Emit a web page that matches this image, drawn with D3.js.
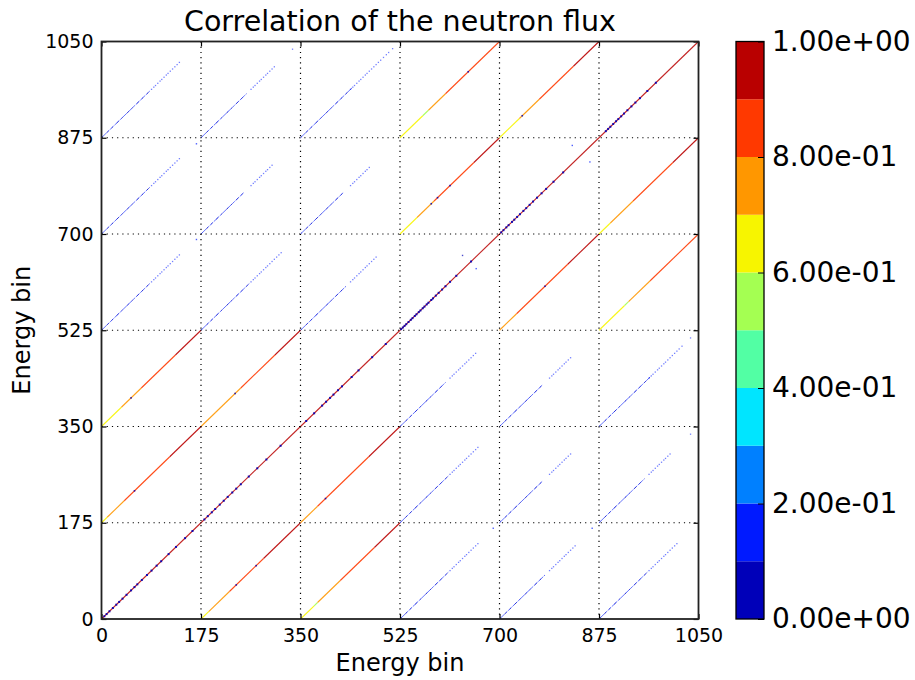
<!DOCTYPE html>
<html>
<head>
<meta charset="utf-8">
<script src="https://cdn.jsdelivr.net/npm/d3@7"></script>
<style>
  body { margin: 0; background: #fff; }
  svg { font-family: "DejaVu Sans", sans-serif; }
</style>
</head>
<body>
<svg id="chart" width="915" height="680"></svg>
<script>
// ---- data ----
const groupSize = 175;           // bins per block
const nBins = 1050;
const axisTicks = [0, 175, 350, 525, 700, 875, 1050];
const cbarLevels = [0, 0.1, 0.2, 0.3, 0.4, 0.5, 0.6, 0.7, 0.8, 0.9, 1.0];
const cbarTicks = [0, 0.2, 0.4, 0.6, 0.8, 1.0];
const cbarTickLabels = ["0.00e+00", "2.00e-01", "4.00e-01", "6.00e-01", "8.00e-01", "1.00e+00"];

// strongly correlated blocks: [row, col, runs of [start, end, value]] (offsets inside the block)
const strongBlocks = [
  [0, 1, [[0, 14, 0.68], [14, 50, 0.76], [50, 110, 0.86], [110, 175, 0.92]]],
  [0, 2, [[0, 24, 0.64], [24, 30, 0.55], [30, 70, 0.75], [70, 130, 0.85], [130, 175, 0.92]]],
  [1, 0, [[0, 10, 0.65], [10, 40, 0.76], [40, 120, 0.86], [120, 175, 0.93]]],
  [1, 2, [[0, 30, 0.75], [30, 120, 0.86], [120, 175, 0.93]]],
  [2, 0, [[0, 35, 0.65], [35, 70, 0.76], [70, 130, 0.86], [130, 175, 0.93]]],
  [2, 1, [[0, 25, 0.7], [25, 70, 0.76], [70, 130, 0.86], [130, 175, 0.93]]],
  [3, 4, [[0, 30, 0.76], [30, 120, 0.86], [120, 175, 0.93]]],
  [3, 5, [[0, 45, 0.64], [45, 52, 0.55], [52, 90, 0.76], [90, 175, 0.86]]],
  [4, 3, [[0, 30, 0.65], [30, 60, 0.76], [60, 130, 0.86], [130, 175, 0.93]]],
  [4, 5, [[0, 20, 0.68], [20, 60, 0.76], [60, 130, 0.86], [130, 175, 0.93]]],
  [5, 3, [[0, 40, 0.63], [40, 50, 0.55], [50, 80, 0.76], [80, 175, 0.86]]],
  [5, 4, [[0, 35, 0.65], [35, 70, 0.76], [70, 130, 0.86], [130, 175, 0.93]]]
];
// occasional low values on the strong off-diagonal lines: [row, col, offset]
const strongSpecks = [
  [0, 1, 62], [0, 1, 97], [1, 0, 58], [1, 2, 44], [2, 0, 52], [2, 1, 60],
  [3, 4, 80], [4, 3, 55], [4, 3, 66], [4, 3, 88], [5, 4, 40], [5, 3, 120]
];

// main diagonal blocks are ~1, with dark-blue specks at these offsets
const diagValue = 0.95;
const diagSpecks = [
  [5, 9, 14, 20, 26, 31, 37, 44, 52, 58, 63, 71, 80, 88, 97, 105, 118, 131, 147, 160],
  [6, 12, 19, 25, 33, 40, 47, 55, 62, 70, 84, 99, 115, 140],
  [10, 24, 38, 45, 52, 58, 66, 73, 90, 102, 126, 150],
  [2, 5, 8, 11, 15, 19, 22, 26, 29, 33, 36, 40, 43, 47, 50, 55,
   58, 63, 68, 74, 80, 88, 99, 125],
  [3, 7, 12, 16, 22, 26, 31, 36, 42, 47, 53, 59, 66, 74, 82, 95, 112],
  [12, 16, 20, 25, 30, 34, 39, 44, 50, 57, 64, 72, 85, 100]
];

// weak cross-group blocks: [row, col, dense length, last offset, extra far dot or null]
const weakBlocks = [
  [0, 3, 85, 139, null], [0, 4, 80, 135, null], [0, 5, 85, 137, null],
  [1, 3, 85, 139, null], [1, 4, 75, 125, null], [1, 5, 80, 128, 161],
  [2, 3, 80, 133, null], [2, 4, 75, 125, null], [2, 5, 90, 150, 161],
  [3, 0, 85, 140, null], [3, 1, 85, 141, null], [3, 2, 80, 133, null],
  [4, 0, 85, 137, null], [4, 1, 75, 126, null], [4, 2, 75, 124, null],
  [5, 0, 85, 139, null], [5, 1, 80, 129, 161], [5, 2, 90, 155, 162]
];
const weakValue = 0.12;
const weakDarkValue = 0.06;
const weakTail = [88, 92, 95, 99, 103, 106, 110, 114, 117, 121, 125, 129, 133, 137, 141, 146, 151, 155];

// lone points: [xBin, yBin, value]
const lonePoints = [
  [828, 861, 0.15], [859, 831, 0.15], [635, 661, 0.05], [659, 637, 0.15],
  [167, 864, 0.15], [167, 690, 0.15], [689, 165, 0.15], [863, 165, 0.15]
];

// ---- drawing ----
const svg = d3.select("#chart");
const plot = { left: 101.5, top: 41.5, right: 698.5, bottom: 619 };
const cbar = { left: 736, right: 764, top: 41.5, bottom: 619 };

const x = d3.scaleLinear().domain([0, nBins]).range([plot.left, plot.right]);
const y = d3.scaleLinear().domain([0, nBins]).range([plot.bottom, plot.top]);

const jet = ["#0000b9", "#001aff", "#0080ff", "#00e5ff", "#52ffa4",
             "#a4ff52", "#f7f500", "#ff9700", "#ff3900", "#b90000"];
const color = d3.scaleQuantize().domain([0, 1]).range(jet);

const marks = svg.append("g");

function seg(r, c, s, e, v, w, op, dash) {
  marks.append("line")
    .attr("x1", x(c * groupSize + s)).attr("y1", y(r * groupSize + s))
    .attr("x2", x(c * groupSize + e)).attr("y2", y(r * groupSize + e))
    .attr("stroke", color(v))
    .attr("stroke-width", w)
    .attr("stroke-opacity", op)
    .attr("stroke-dasharray", dash || null);
}
function dot(bx, by, v, sz, op) {
  marks.append("rect")
    .attr("x", x(bx) - sz / 2).attr("y", y(by) - sz / 2)
    .attr("width", sz).attr("height", sz)
    .attr("fill", color(v))
    .attr("fill-opacity", op);
}

// weak blue lines: a blue base with darker blue pieces over it
weakBlocks.forEach(([r, c, dense, last, extra]) => {
  seg(r, c, 0, dense, weakValue, 1, 0.6, "7,1,3,1,5,1");
  seg(r, c, 0, dense, weakDarkValue, 1, 0.55, "2,5,3,4");
  weakTail.filter(t => t <= last).forEach(t => {
    dot(c * groupSize + t, r * groupSize + t, weakValue, 1.3, 0.55);
  });
  if (extra !== null) dot(c * groupSize + extra, r * groupSize + extra, weakValue, 1.3, 0.55);
});

// strong lines
strongBlocks.forEach(([r, c, runs]) => {
  runs.forEach(([s, e, v]) => seg(r, c, s, e, v, 1.1, 0.9));
});
strongSpecks.forEach(([r, c, t]) => {
  dot(c * groupSize + t, r * groupSize + t, 0.05, 1.6, 0.85);
});

// diagonal blocks
diagSpecks.forEach((specks, b) => {
  seg(b, b, 0, groupSize, diagValue, 1.1, 0.85);
  specks.forEach(t => dot(b * groupSize + t, b * groupSize + t, 0.05, 2, 0.9));
});

lonePoints.forEach(([bx, by, v]) => dot(bx, by, v, 1.4, 0.7));

// dotted grid
const grid = svg.append("g").attr("stroke", "#000").attr("stroke-width", 1.2)
  .attr("stroke-dasharray", "1.2,4");
axisTicks.slice(1, -1).forEach(t => {
  grid.append("line").attr("x1", x(t)).attr("x2", x(t)).attr("y1", plot.top).attr("y2", plot.bottom);
  grid.append("line").attr("y1", y(t)).attr("y2", y(t)).attr("x1", plot.left).attr("x2", plot.right);
});

// axes with inward ticks on all four sides
const tickLen = 5;
const fmt = d3.format("d");
svg.append("g").attr("transform", `translate(0,${plot.bottom})`)
  .call(d3.axisBottom(x).tickValues(axisTicks).tickFormat(fmt).tickSizeInner(-tickLen).tickSizeOuter(0).tickPadding(10))
  .call(g => g.select(".domain").remove());
svg.append("g").attr("transform", `translate(0,${plot.top})`)
  .call(d3.axisTop(x).tickValues(axisTicks).tickSizeInner(-tickLen).tickSizeOuter(0).tickFormat(""))
  .call(g => g.select(".domain").remove());
svg.append("g").attr("transform", `translate(${plot.left},0)`)
  .call(d3.axisLeft(y).tickValues(axisTicks).tickFormat(fmt).tickSizeInner(-tickLen).tickSizeOuter(0).tickPadding(8))
  .call(g => g.select(".domain").remove());
svg.append("g").attr("transform", `translate(${plot.right},0)`)
  .call(d3.axisRight(y).tickValues(axisTicks).tickSizeInner(-tickLen).tickSizeOuter(0).tickFormat(""))
  .call(g => g.select(".domain").remove());

svg.selectAll(".tick text").attr("font-size", 19).attr("font-family", "DejaVu Sans").attr("fill", "#000");
svg.selectAll(".tick line").attr("stroke", "#000").attr("stroke-width", 1.2);

svg.append("rect")
  .attr("x", plot.left).attr("y", plot.top)
  .attr("width", plot.right - plot.left).attr("height", plot.bottom - plot.top)
  .attr("fill", "none").attr("stroke", "#222").attr("stroke-width", 1.8);

// titles
svg.append("text").attr("x", (plot.left + plot.right) / 2).attr("y", 31)
  .attr("text-anchor", "middle").attr("font-size", 28.5).text("Correlation of the neutron flux");
svg.append("text").attr("x", (plot.left + plot.right) / 2).attr("y", 671)
  .attr("text-anchor", "middle").attr("font-size", 24).text("Energy bin");
svg.append("text").attr("transform", `translate(30,${(plot.top + plot.bottom) / 2}) rotate(-90)`)
  .attr("text-anchor", "middle").attr("font-size", 24).text("Energy bin");

// colour bar
const cy = d3.scaleLinear().domain([0, 1]).range([cbar.bottom, cbar.top]);
const cb = svg.append("g");
cb.selectAll("rect.band").data(d3.pairs(cbarLevels)).join("rect")
  .attr("class", "band")
  .attr("x", cbar.left).attr("width", cbar.right - cbar.left)
  .attr("y", d => cy(d[1])).attr("height", d => cy(d[0]) - cy(d[1]))
  .attr("fill", d => color((d[0] + d[1]) / 2));
cb.append("g").attr("transform", `translate(${cbar.right},0)`)
  .call(d3.axisRight(cy).tickValues(cbarTicks).tickSizeInner(-6).tickSizeOuter(0).tickPadding(8)
    .tickFormat((d, i) => cbarTickLabels[i]))
  .call(g => g.select(".domain").remove())
  .call(g => g.selectAll("text").attr("font-size", 28).attr("font-family", "DejaVu Sans").attr("fill", "#000"))
  .call(g => g.selectAll("line").attr("stroke", "#000"));
cb.append("rect")
  .attr("x", cbar.left).attr("y", cbar.top)
  .attr("width", cbar.right - cbar.left).attr("height", cbar.bottom - cbar.top)
  .attr("fill", "none").attr("stroke", "#000").attr("stroke-width", 1.3);
</script>
</body>
</html>
